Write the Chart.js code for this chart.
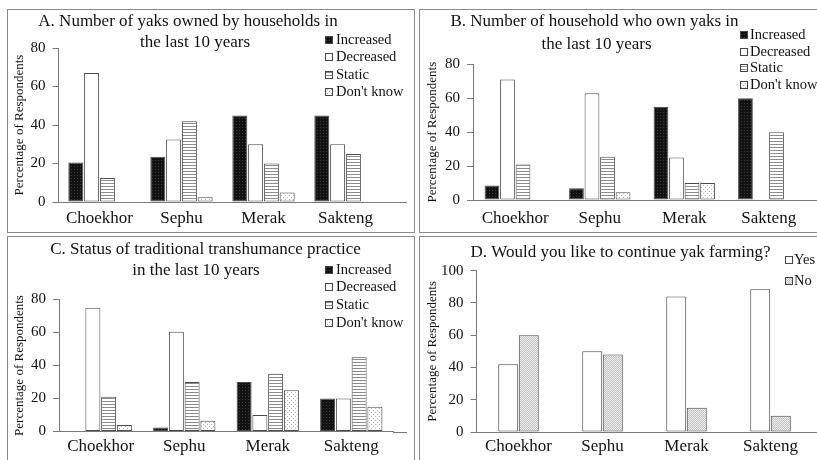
<!DOCTYPE html>
<html>
<head>
<meta charset="utf-8">
<script src="https://cdn.jsdelivr.net/npm/chart.js@4.4.1/dist/chart.umd.min.js"></script>
<style>
  body { margin: 0; background: #fff; }
  #wrap { position: relative; width: 817px; height: 460px; overflow: hidden; background: #fff; }
  canvas { position: absolute; }
  .frame { position: absolute; border: 1px solid #8a8a8a; box-sizing: border-box; pointer-events: none; }
</style>
</head>
<body>
<div id="wrap">
  <canvas id="chartA" width="407" height="223" style="left:7px;top:9px"></canvas>
  <canvas id="chartB" width="398" height="223" style="left:419px;top:9px"></canvas>
  <canvas id="chartC" width="407" height="224" style="left:7px;top:236px"></canvas>
  <canvas id="chartD" width="398" height="224" style="left:419px;top:236px"></canvas>
  <div class="frame" style="left:7px;top:9px;width:408px;height:224px"></div>
  <div class="frame" style="left:419px;top:9px;width:410px;height:224px"></div>
  <div class="frame" style="left:7px;top:236px;width:408px;height:240px"></div>
  <div class="frame" style="left:419px;top:236px;width:410px;height:240px"></div>
</div>
<script>
// categories
const sites = ['Choekhor', 'Sephu', 'Merak', 'Sakteng'];
const statusLabels = ['Increased', 'Decreased', 'Static', "Don't know"];
const answerLabels = ['Yes', 'No'];

// A. number of yaks owned by households
const yaksIncreased = [20.5, 23.5, 45, 45];
const yaksDecreased = [67, 32.5, 30, 30];
const yaksStatic = [12.5, 42, 20, 25];
const yaksDontKnow = [0, 2.5, 5, 0];

// B. number of households who own yaks
const ownersIncreased = [8.5, 7, 55, 60];
const ownersDecreased = [71, 63, 25, 0];
const ownersStatic = [21, 25.5, 10, 40];
const ownersDontKnow = [0, 4.5, 10, 0];

// C. traditional transhumance practice
const transIncreased = [0, 2.5, 30, 20];
const transDecreased = [75, 60.5, 10, 20];
const transStatic = [21, 30, 35, 45];
const transDontKnow = [4, 6.5, 25, 15];

// D. continue yak farming
const continueYes = [42, 50, 84, 88.5];
const continueNo = [60, 48, 15, 10];

const yTicks80 = [0, 20, 40, 60, 80];
const yTicks100 = [0, 20, 40, 60, 80, 100];

const FONT = '"Liberation Serif", "Times New Roman", serif';
const INK = '#111';
const LINE = '#7a7a7a';

function makePattern(kind) {
  const c = document.createElement('canvas');
  const g = c.getContext('2d');
  if (kind === 'dark') {
    c.width = 3; c.height = 3;
    g.fillStyle = '#121212'; g.fillRect(0, 0, 3, 3);
    g.fillStyle = '#3c3c3c'; g.fillRect(1, 1, 1, 1);
  } else if (kind === 'stripes') {
    c.width = 3; c.height = 3;
    g.fillStyle = '#ffffff'; g.fillRect(0, 0, 3, 3);
    g.fillStyle = '#8c8c8c'; g.fillRect(0, 0, 3, 1);
  } else if (kind === 'dots') {
    c.width = 4; c.height = 4;
    g.fillStyle = '#ffffff'; g.fillRect(0, 0, 4, 4);
    g.fillStyle = '#b4b4b4'; g.fillRect(0, 0, 1, 1); g.fillRect(2, 2, 1, 1);
  } else {
    c.width = 2; c.height = 2;
    g.fillStyle = '#ececec'; g.fillRect(0, 0, 2, 2);
    g.fillStyle = '#c4c4c4'; g.fillRect(0, 0, 1, 1); g.fillRect(1, 1, 1, 1);
  }
  return g.createPattern(c, 'repeat');
}

const fillIncreased = makePattern('dark');
const fillDecreased = '#ffffff';
const fillStatic = makePattern('stripes');
const fillDontKnow = makePattern('dots');
const fillNo = makePattern('grey');

// title, legend and the axis line running on under the legend
const panelText = {
  id: 'panelText',
  afterDraw(chart, args, opts) {
    const ctx = chart.ctx;
    ctx.save();
    const xs = chart.scales.x;
    const ay = Math.round(xs.top) + 0.5;
    ctx.strokeStyle = LINE;
    ctx.lineWidth = 1;
    ctx.beginPath();
    ctx.moveTo(chart.chartArea.right, ay);
    ctx.lineTo(opts.axisEnd, ay);
    ctx.stroke();

    ctx.fillStyle = INK;
    ctx.textBaseline = 'middle';
    ctx.textAlign = 'center';
    ctx.font = '17px ' + FONT;
    opts.title.forEach(t => ctx.fillText(t.text, t.x, t.y));

    ctx.font = '14.5px ' + FONT;
    ctx.textAlign = 'left';
    const lg = opts.legend;
    chart.data.datasets.forEach((ds, i) => {
      const y = lg.y + i * lg.step;
      const sx = lg.box, sy = Math.round(y - 4);
      ctx.fillStyle = ds.backgroundColor;
      ctx.fillRect(sx, sy, 8, 8);
      ctx.strokeStyle = '#444';
      ctx.strokeRect(sx + 0.5, sy + 0.5, 7, 7);
      ctx.fillStyle = INK;
      ctx.fillText(ds.label, lg.text, y);
    });
    ctx.restore();
  }
};

function bar(label, data, color) {
  return {
    label: label,
    data: data,
    backgroundColor: color,
    borderColor: '#4a4a4a',
    borderWidth: c => (c.raw === 0 ? 0 : 1),
    borderSkipped: false,
  };
}

function drawPanel(id, datasets, p) {
  const ctx = document.getElementById(id).getContext('2d');
  return new Chart(ctx, {
    type: 'bar',
    data: { labels: sites, datasets: datasets },
    plugins: [panelText],
    options: {
      responsive: false,
      animation: false,
      devicePixelRatio: 1,
      categoryPercentage: p.catPct,
      barPercentage: p.barPct,
      layout: { padding: { left: 0, top: p.top, right: p.right, bottom: 0 } },
      scales: {
        x: {
          grid: { display: false, drawTicks: false },
          border: { color: LINE },
          ticks: { padding: p.xPad, color: INK, font: { family: FONT, size: 17 } },
          afterFit: s => { s.height = p.xHeight; },
        },
        y: {
          min: 0,
          max: p.yTicks[p.yTicks.length - 1],
          afterBuildTicks: s => { s.ticks = p.yTicks.map(v => ({ value: v })); },
          ticks: { padding: 7, color: INK, font: { family: FONT, size: 15 } },
          grid: { drawOnChartArea: false, tickLength: 6, color: LINE },
          border: { color: LINE },
          title: {
            display: true,
            text: 'Percentage of Respondents',
            color: INK,
            font: { family: FONT, size: 13 },
            padding: { top: p.yTitlePad, bottom: 0 },
          },
          afterFit: s => { s.width = p.yWidth; },
        },
      },
      plugins: {
        legend: { display: false },
        tooltip: { enabled: false },
        panelText: { title: p.title, legend: p.legend, axisEnd: p.axisEnd },
      },
    },
  });
}

drawPanel('chartA', [
  bar(statusLabels[0], yaksIncreased, fillIncreased),
  bar(statusLabels[1], yaksDecreased, fillDecreased),
  bar(statusLabels[2], yaksStatic, fillStatic),
  bar(statusLabels[3], yaksDontKnow, fillDontKnow),
], {
  top: 39, right: 27.5, yWidth: 51.5, xHeight: 30, xPad: 6.5, yTitlePad: 5.2,
  catPct: 0.77, barPct: 0.95, yTicks: yTicks80, axisEnd: 400,
  title: [
    { text: 'A. Number of yaks owned by households in', x: 181, y: 12.7 },
    { text: 'the last 10 years', x: 188, y: 33.7 },
  ],
  legend: { box: 318, text: 329, y: 31, step: 17.4 },
});

drawPanel('chartB', [
  bar(statusLabels[0], ownersIncreased, fillIncreased),
  bar(statusLabels[1], ownersDecreased, fillDecreased),
  bar(statusLabels[2], ownersStatic, fillStatic),
  bar(statusLabels[3], ownersDontKnow, fillDontKnow),
], {
  top: 55.3, right: 6, yWidth: 54, xHeight: 32, xPad: 8, yTitlePad: 6.2,
  catPct: 0.735, barPct: 0.95, yTicks: yTicks80, axisEnd: 398,
  title: [
    { text: 'B. Number of household who own yaks in', x: 175.5, y: 12.7 },
    { text: 'the last 10 years', x: 177.5, y: 35.3 },
  ],
  legend: { box: 321, text: 331, y: 26, step: 16.7 },
});

drawPanel('chartC', [
  bar(statusLabels[0], transIncreased, fillIncreased),
  bar(statusLabels[1], transDecreased, fillDecreased),
  bar(statusLabels[2], transStatic, fillStatic),
  bar(statusLabels[3], transDontKnow, fillDontKnow),
], {
  top: 63.5, right: 21, yWidth: 52, xHeight: 28.5, xPad: 5.3, yTitlePad: 5.2,
  catPct: 0.755, barPct: 0.95, yTicks: yTicks80, axisEnd: 400,
  title: [
    { text: 'C. Status of traditional transhumance practice', x: 198.5, y: 13.7 },
    { text: 'in the last 10 years', x: 189, y: 34.7 },
  ],
  legend: { box: 318, text: 329, y: 33.7, step: 17.7 },
});

drawPanel('chartD', [
  bar(answerLabels[0], continueYes, '#ffffff'),
  bar(answerLabels[1], continueNo, fillNo),
], {
  top: 34.7, right: 4.5, yWidth: 57.5, xHeight: 28, xPad: 4, yTitlePad: 6.2,
  catPct: 0.49, barPct: 0.97, yTicks: yTicks100, axisEnd: 398,
  title: [
    { text: 'D. Would you like to continue yak farming?', x: 201.5, y: 17 },
  ],
  legend: { box: 366, text: 375, y: 23.7, step: 21.6 },
});
</script>
</body>
</html>
